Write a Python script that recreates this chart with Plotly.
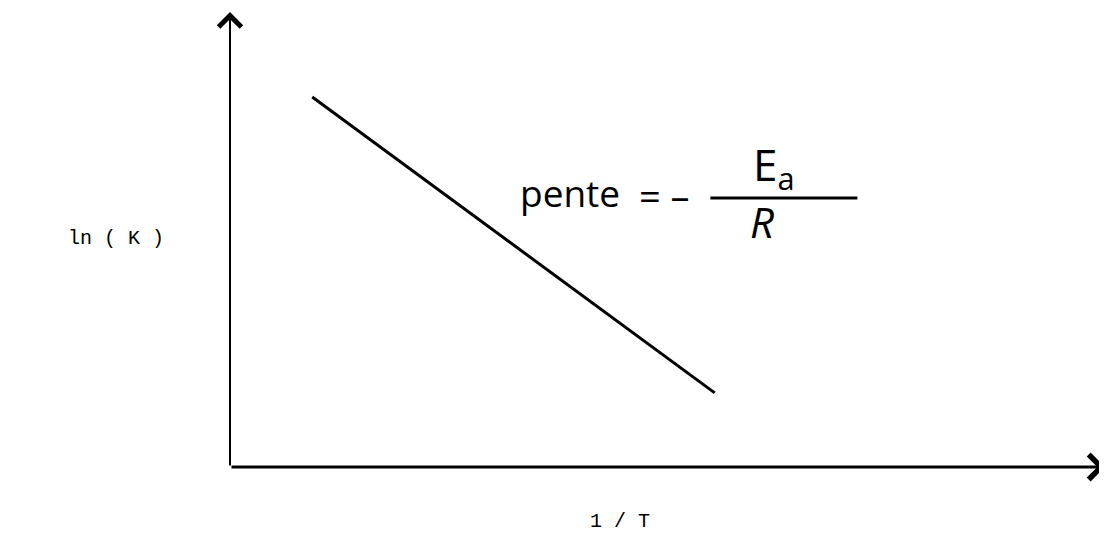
import plotly.graph_objects as go

# Data (abstract units: x = 1/T, y = ln K)
x_line = [0.94, 5.54]
y_line = [8.13, 1.63]

x_range = [0, 10]
y_range = [0, 10]

x_label = "1 / T"
y_label = "ln ( K )"

fig = go.Figure()
fig.add_trace(go.Scatter(x=x_line, y=y_line, mode="lines",
                         line=dict(color="black", width=3), showlegend=False,
                         hoverinfo="skip"))

mono = dict(family="Courier New, Liberation Mono, monospace", size=20, color="black")
hand = "Open Sans, sans-serif"

annotations = [
    # axes with arrowheads
    dict(x=x_range[0], y=y_range[1], ax=x_range[0], ay=y_range[0], xref="x", yref="y",
         axref="x", ayref="y", showarrow=True, arrowhead=4, arrowwidth=2, arrowsize=2.2,
         arrowcolor="black", text=""),
    dict(x=x_range[1], y=y_range[0], ax=x_range[0], ay=y_range[0], xref="x", yref="y",
         axref="x", ayref="y", showarrow=True, arrowhead=4, arrowwidth=3, arrowsize=1.6,
         arrowcolor="black", text=""),
    # axis labels
    dict(x=-0.130, y=0.503, xref="paper", yref="paper", xanchor="center", yanchor="middle",
         text=y_label, showarrow=False, font=mono),
    dict(x=0.446, y=-0.119, xref="paper", yref="paper", xanchor="center", yanchor="middle",
         text=x_label, showarrow=False, font=mono),
    # slope annotation
    dict(x=3.89, y=6.04, xref="x", yref="y", text="pente", showarrow=False,
         font=dict(family=hand, size=37, color="black")),
    dict(x=4.96, y=5.98, xref="x", yref="y", text="= –", showarrow=False,
         font=dict(family=hand, size=38, color="black")),
    dict(x=6.22, y=6.6, xref="x", yref="y", text="E<sub>a</sub>", showarrow=False,
         font=dict(family=hand, size=44, color="black")),
    dict(x=6.08, y=5.4, xref="x", yref="y", text="<i>R</i>", showarrow=False,
         font=dict(family=hand, size=42, color="black")),
]

fig.update_layout(
    width=1099, height=543,
    margin=dict(l=222, r=2, t=4, b=84),
    paper_bgcolor="white", plot_bgcolor="white",
    xaxis=dict(range=x_range, visible=False, fixedrange=True),
    yaxis=dict(range=y_range, visible=False, fixedrange=True),
    annotations=annotations,
    shapes=[dict(type="line", xref="x", yref="y", x0=5.49, x1=7.17, y0=5.91, y1=5.91,
                 line=dict(color="black", width=3))],
)

fig.write_html("out.html")
